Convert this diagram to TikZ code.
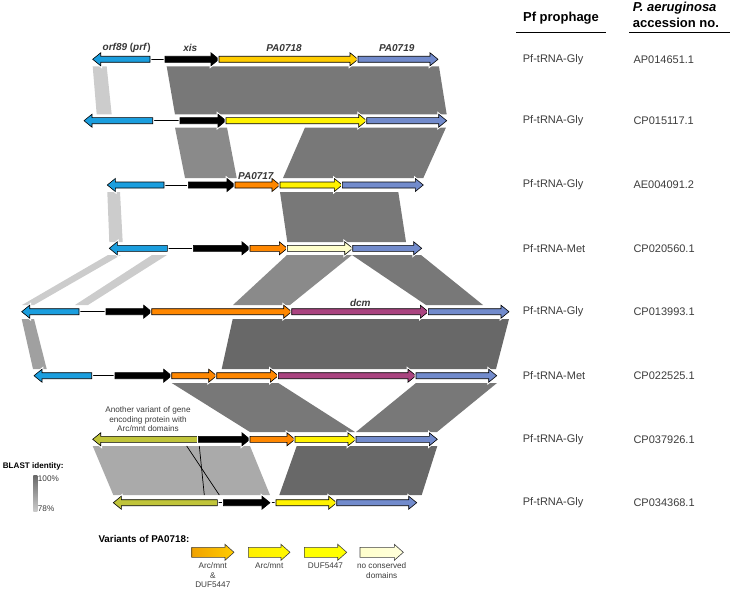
\documentclass[tikz,border=0pt]{standalone}
\usepackage{fontspec}
\setmainfont{Liberation Sans}
\usetikzlibrary{positioning}

\definecolor{cyangene}{RGB}{27,158,222}
\definecolor{goldgene}{RGB}{255,204,0}
\definecolor{yellowgene}{RGB}{255,242,0}
\definecolor{orangegene}{RGB}{255,135,0}
\definecolor{creamgene}{RGB}{255,255,204}
\definecolor{bluegene}{RGB}{114,139,204}
\definecolor{dcmgene}{RGB}{170,68,128}
\definecolor{olivegene}{RGB}{192,196,58}
\definecolor{simpale}{RGB}{204,204,204}
\definecolor{simlight}{RGB}{170,170,170}
\definecolor{simgrey}{RGB}{160,160,160}
\definecolor{simmid}{RGB}{138,138,138}
\definecolor{simdark}{RGB}{120,120,120}
\definecolor{simdeep}{RGB}{104,104,104}
\definecolor{txtgrey}{RGB}{60,60,60}
\definecolor{labelgrey}{RGB}{55,55,55}
\definecolor{ambergene}{RGB}{240,162,0}

% forward gene: start, tip, row, colour
\newcommand{\genefwd}[4]{%
  \filldraw[gene, fill=#4] (#1,#3-3) -- ({#2-8},#3-3) -- ({#2-8},#3-6.5) -- (#2,#3)
    -- ({#2-8},#3+6.5) -- ({#2-8},#3+3) -- (#1,#3+3) -- cycle;}
% reverse gene: tip, end, row, colour
\newcommand{\generev}[4]{%
  \filldraw[gene, fill=#4] (#2,#3-3) -- ({#1+8},#3-3) -- ({#1+8},#3-6.5) -- (#1,#3)
    -- ({#1+8},#3+6.5) -- ({#1+8},#3+3) -- (#2,#3+3) -- cycle;}
% legend arrow: start, tip, row, left colour, right colour
\newcommand{\legendarrow}[5]{%
  \draw[legarrow, left color=#4, right color=#5] (#1,#3-5) -- ({#2-9},#3-5) -- ({#2-9},#3-8) -- (#2,#3)
    -- ({#2-9},#3+8) -- ({#2-9},#3+5) -- (#1,#3+5) -- cycle;}

\begin{document}
\begin{tikzpicture}[x=1pt, y=-1pt,
	gene/.style={draw=black, line width=0.6pt, line join=miter, preaction={draw=white, line width=2.6pt}},
	spacer/.style={draw=black, line width=0.9pt},
	genelabel/.style={font=\fontsize{10}{12}\selectfont\bfseries\itshape, text=labelgrey, inner sep=0pt},
	rowtxt/.style={anchor=west, font=\fontsize{11}{13}\selectfont, text=txtgrey, inner sep=0pt},
	hdr/.style={font=\fontsize{13}{15.4}\selectfont\bfseries, text=black, inner sep=0pt},
	legtxt/.style={font=\fontsize{8.2}{9.6}\selectfont, text=txtgrey, inner sep=0pt, align=center},
	legtitle/.style={font=\fontsize{9.8}{11.5}\selectfont\bfseries, text=black, anchor=west, inner sep=0pt},
	legarrow/.style={draw=black!75, line width=0.6pt}]
	\useasboundingbox (0,0) rectangle (730,591);

	% similarity blocks
	\fill[simpale] (92.7,66.5) -- (106.7,66.5) -- (111.7,114.5) -- (96.7,114.5) -- cycle;
	\fill[simdark] (166.7,66.5) -- (439,66.5) -- (446.7,114.5) -- (175,114.5) -- cycle;
	\fill[simmid] (175,127.5) -- (227,127.5) -- (236.7,178) -- (185,178) -- cycle;
	\fill[simdark] (305,127.5) -- (446,127.5) -- (423.3,178) -- (283,178) -- cycle;
	\fill[simpale] (107.3,192) -- (120,192) -- (122.7,242) -- (109.3,242) -- cycle;
	\fill[simdark] (280,192) -- (398.3,192) -- (406,242) -- (287.3,242) -- cycle;
	\fill[simpale] (108,255) -- (121,255) -- (34,305) -- (22,305) -- cycle;
	\fill[simpale] (152,255) -- (167,255) -- (88,305) -- (75,305) -- cycle;
	\fill[simmid] (287,255) -- (352,255) -- (290,305) -- (233,305) -- cycle;
	\fill[simdark] (352,255) -- (421,255) -- (483,305) -- (426,305) -- cycle;
	\fill[simgrey] (21.7,319) -- (34,319) -- (46.7,369) -- (33,369) -- cycle;
	\fill[simdeep] (232.7,319) -- (509,319) -- (496,369) -- (221.7,369) -- cycle;
	\fill[simdark] (171.7,383) -- (278.3,383) -- (355,432) -- (250,432) -- cycle;
	\fill[simdark] (416,383) -- (497,383) -- (437,432) -- (356,432) -- cycle;
	\fill[simlight] (92.7,446) -- (250,446) -- (270,495) -- (113.3,495) -- cycle;
	\draw[line width=0.7pt] (186.7,446) -- (219.3,495);
	\draw[line width=0.7pt] (199.3,446) -- (204.3,495);
	\fill[simdeep] (296.7,446) -- (437.3,446) -- (421.7,495) -- (279.3,495) -- cycle;

	% row 1
	\draw[spacer] (150,59.3) -- (165,59.3);
	\generev{92.7}{150}{59.3}{cyangene}
	\genefwd{165}{219}{59.3}{black}
	\genefwd{219}{358}{59.3}{goldgene}
	\genefwd{358}{438}{59.3}{bluegene}
	% row 2
	\draw[spacer] (152.7,120.7) -- (180,120.7);
	\generev{84}{152.7}{120.7}{cyangene}
	\genefwd{180}{226}{120.7}{black}
	\genefwd{226}{366.7}{120.7}{yellowgene}
	\genefwd{366.7}{446.7}{120.7}{bluegene}
	% row 3
	\draw[spacer] (164,185) -- (188.3,185);
	\generev{107.3}{164}{185}{cyangene}
	\genefwd{188.3}{235}{185}{black}
	\genefwd{235}{280}{185}{orangegene}
	\genefwd{280}{342.3}{185}{yellowgene}
	\genefwd{342.3}{423.3}{185}{bluegene}
	% row 4
	\draw[spacer] (167.3,248.3) -- (193.3,248.3);
	\generev{109.3}{167.3}{248.3}{cyangene}
	\genefwd{193.3}{250}{248.3}{black}
	\genefwd{250}{287.3}{248.3}{orangegene}
	\genefwd{287.3}{352.7}{248.3}{creamgene}
	\genefwd{352.7}{421.7}{248.3}{bluegene}
	% row 5
	\draw[spacer] (79,311.7) -- (106,311.7);
	\generev{21.7}{79}{311.7}{cyangene}
	\genefwd{106}{151.7}{311.7}{black}
	\genefwd{151.7}{291.7}{311.7}{orangegene}
	\genefwd{291.7}{428.3}{311.7}{dcmgene}
	\genefwd{428.3}{509}{311.7}{bluegene}
	% row 6
	\draw[spacer] (91.7,375.7) -- (115,375.7);
	\generev{34}{91.7}{375.7}{cyangene}
	\genefwd{115}{171.7}{375.7}{black}
	\genefwd{171.7}{216.7}{375.7}{orangegene}
	\genefwd{216.7}{278.3}{375.7}{orangegene}
	\genefwd{278.3}{416}{375.7}{dcmgene}
	\genefwd{416}{496.7}{375.7}{bluegene}
	% row 7
	\generev{92.7}{198.3}{439.3}{olivegene}
	\genefwd{198.3}{250}{439.3}{black}
	\genefwd{250}{295}{439.3}{orangegene}
	\genefwd{295}{356}{439.3}{yellowgene}
	\genefwd{356}{437.3}{439.3}{bluegene}
	% row 8
	\draw[spacer] (217.3,502.7) -- (223.3,502.7);
	\draw[spacer] (270,502.7) -- (276,502.7);
	\generev{113.3}{217.3}{502.7}{olivegene}
	\genefwd{223.3}{270}{502.7}{black}
	\genefwd{276}{336.7}{502.7}{yellowgene}
	\genefwd{336.7}{416.7}{502.7}{bluegene}

	% gene names
	\node[genelabel] (lorf) at (126.7,48.3) {orf89 \textup{(}prf\textup{)}};
	\node[genelabel] (lxis) at (190.3,48.3) {xis};
	\node[genelabel] (lpa0718) at (284,48.3) {PA0718};
	\node[genelabel] (lpa0719) at (396.7,48.3) {PA0719};
	\node[genelabel] (lpa0717) at (255.8,175.7) {PA0717};
	\node[genelabel] (ldcm) at (360.3,303.3) {dcm};
	\node[legtxt] (lvariant) at (148,419.3) {Another variant of gene\\encoding protein with\\Arc/mnt domains};

	% table
	\node[hdr] (hproph) at (561,18.3) {Pf prophage};
	\node[hdr, anchor=west, align=left] (hacc) at (632.7,15) {\textit{P. aeruginosa}\\accession no.};
	\draw[line width=1.2pt] (516,32.3) -- (606,32.3);
	\draw[line width=1.2pt] (629,32.3) -- (730,32.3);
	\foreach \y/\trna/\acc [count=\i] in {59.3/Gly/AP014651.1, 120.7/Gly/CP015117.1, 185/Gly/AE004091.2,
		248.3/Met/CP020560.1, 311.7/Gly/CP013993.1, 375.7/Met/CP022525.1, 439.3/Gly/CP037926.1, 502.7/Gly/CP034368.1}
	{
		\node[rowtxt] (proph\i) at (522.7,\y) {Pf-tRNA-\trna};
		\node[rowtxt] (acc\i) at (633.3,\y) {\acc};
	}

	% BLAST legend
	\node[legtitle, font=\fontsize{8.1}{10}\selectfont\bfseries] (blast) at (2.7,466.7) {BLAST identity:};
	\shade[top color=simdeep, bottom color=simpale] (33.3,475) rectangle (37.3,511.7);
	\node[legtxt, anchor=west] (top) at (37.7,479) {100\%};
	\node[legtxt, anchor=west] (bottom) at (37.7,509) {78\%};

	% variants legend
	\node[legtitle] (variants) at (98.3,539) {Variants of PA0718:};
	\legendarrow{191.7}{234}{552.3}{ambergene}{goldgene}
	\legendarrow{248.3}{290}{552.3}{yellow!88!orange}{yellow!95!orange}
	\legendarrow{304.3}{346.7}{552.3}{yellow}{yellow}
	\legendarrow{360}{403.3}{552.3}{creamgene}{creamgene!70}
	\node[legtxt, anchor=north] (var1) at (212.8,562.5) {Arc/mnt\\\&\\DUF5447};
	\node[legtxt, anchor=north] (var2) at (269.2,562.5) {Arc/mnt};
	\node[legtxt, anchor=north] (var3) at (325.5,562.5) {DUF5447};
	\node[legtxt, anchor=north] (var4) at (381.7,562.5) {no conserved\\domains};
\end{tikzpicture}
\end{document}
